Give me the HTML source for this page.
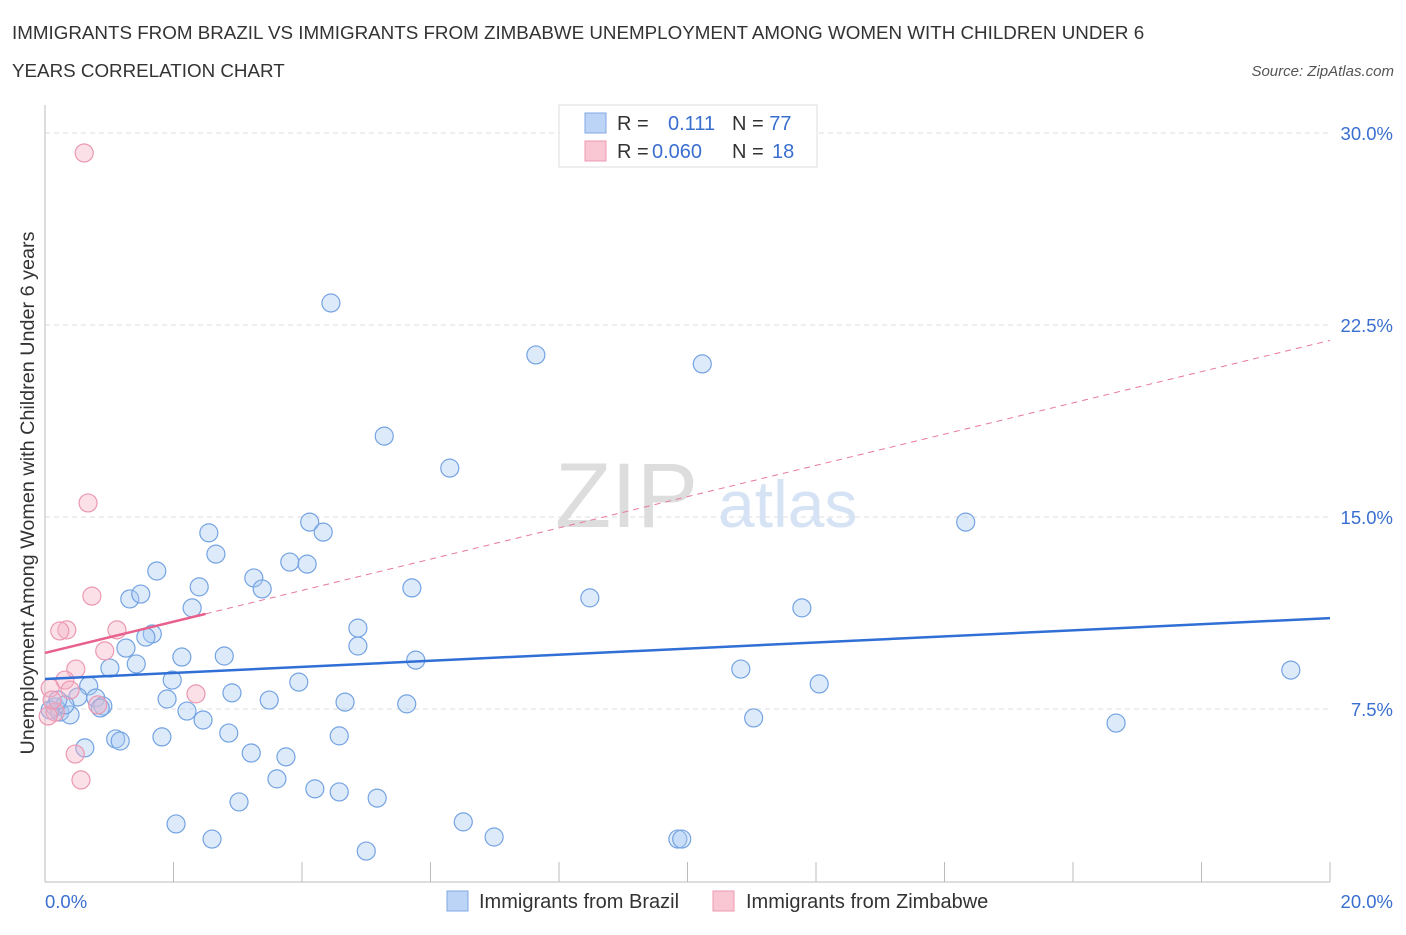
<!DOCTYPE html>
<html><head><meta charset="utf-8"><style>
body{margin:0;background:#fff;font-family:"Liberation Sans",sans-serif;}
svg text{font-family:"Liberation Sans",sans-serif;}
</style></head><body>
<svg id="c" width="1406" height="930" xmlns="http://www.w3.org/2000/svg">
<text x="12" y="39" font-size="18.8" fill="#333">IMMIGRANTS FROM BRAZIL VS IMMIGRANTS FROM ZIMBABWE UNEMPLOYMENT AMONG WOMEN WITH CHILDREN UNDER 6</text>
<text x="12" y="77" font-size="18.8" fill="#333">YEARS CORRELATION CHART</text>
<text x="1394" y="76" font-size="15" fill="#555" font-style="italic" text-anchor="end">Source: ZipAtlas.com</text>
<text x="34" y="493" font-size="19.8" fill="#333" text-anchor="middle" transform="rotate(-90 34 493)">Unemployment Among Women with Children Under 6 years</text>
<g id="grid"></g>
<text x="555" y="527" font-size="92" fill="#ddd" font-family="Liberation Serif">ZIP</text>
<text x="718" y="527" font-size="66" fill="#d5e3f5">atlas</text>
<g id="pts"></g>
<g id="lines"></g>
<g>
<rect x="559" y="105" width="258" height="62" fill="#fff" stroke="#ddd"/>
<rect x="585" y="113" width="21" height="20" fill="#bcd4f6" stroke="#80aae6"/>
<rect x="585" y="141" width="21" height="20" fill="#f9c6d4" stroke="#ee9ab2"/>
<text x="617" y="130" font-size="20" fill="#333">R = <tspan x="668" fill="#3a6fd0">0.111</tspan><tspan x="732" fill="#333">N = </tspan><tspan fill="#3a6fd0">77</tspan></text>
<text x="617" y="158" font-size="20" fill="#333">R = <tspan x="652" fill="#3a6fd0">0.060</tspan><tspan x="732" fill="#333">N = </tspan><tspan x="772" fill="#3a6fd0">18</tspan></text>
</g>
<g>
<rect x="447" y="891" width="21" height="20" fill="#bcd4f6" stroke="#80aae6"/>
<text x="479" y="908" font-size="20" fill="#333">Immigrants from Brazil</text>
<rect x="713" y="891" width="21" height="20" fill="#f9c6d4" stroke="#ee9ab2"/>
<text x="746" y="908" font-size="20" fill="#333">Immigrants from Zimbabwe</text>
</g>
</svg>
<script>
const xTicks=[0,2,4,6,8,10,12,14,16,18,20];
const yTicks=[7.5,15,22.5,30];
const yTickLabels=["7.5%","15.0%","22.5%","30.0%"];
const xEndLabels=["0.0%","20.0%"];
const brazilX=[4.45,7.64,10.23,5.28,6.30,4.12,4.33,2.55,14.33,1.74,2.66,3.81,4.08,3.25,1.32,1.49,2.40,3.38,5.71,8.48,2.29,11.78,1.67,1.57,4.87,4.87,1.26,2.13,2.79,1.01,1.42,5.77,10.83,19.39,1.98,3.95,2.91,0.68,0.51,0.79,0.90,1.90,3.49,4.67,5.63,12.05,2.21,2.46,11.03,16.67,2.86,1.82,1.10,1.17,4.58,0.62,3.21,3.75,3.61,4.20,4.58,3.02,5.17,6.51,2.04,6.99,2.60,9.85,9.91,5.00,0.16,0.23,0.39,0.31,0.08,0.20,0.86];
const brazilY=[23.36,21.33,20.98,18.16,16.91,14.80,14.41,14.38,14.80,12.89,13.55,13.24,13.16,12.62,11.80,11.99,12.27,12.19,12.23,11.84,11.45,11.45,10.43,10.31,10.66,9.96,9.88,9.53,9.57,9.10,9.26,9.41,9.06,9.02,8.63,8.55,8.13,8.40,7.97,7.93,7.62,7.89,7.85,7.77,7.70,8.48,7.42,7.07,7.15,6.95,6.56,6.41,6.33,6.25,6.45,5.98,5.78,5.63,4.77,4.38,4.26,3.87,4.02,3.09,3.01,2.50,2.42,2.42,2.42,1.95,7.58,7.38,7.27,7.66,7.46,7.85,7.54];
const zimX=[0.61,0.67,0.73,0.34,0.23,1.12,0.93,0.48,0.31,0.08,2.35,0.82,0.16,0.05,0.47,0.56,0.39,0.11];
const zimY=[29.22,15.55,11.91,10.59,10.55,10.59,9.77,9.06,8.63,8.32,8.09,7.66,7.38,7.23,5.74,4.73,8.24,7.85];
const brazilTrend=[8.67,11.05];
const zimTrend=[9.69,21.9];
const zimSolidEnd=2.5;
const X=v=>45+v/20*1285;
const Y=v=>901-v*25.6;
const NS="http://www.w3.org/2000/svg";
function mk(parent,tag,attrs){const e=document.createElementNS(NS,tag);for(const k in attrs)e.setAttribute(k,attrs[k]);document.getElementById(parent).appendChild(e);return e;}
yTicks.forEach((t,i)=>{
 const l=mk('grid','line',{x1:45,x2:1330,y1:Y(t),y2:Y(t),stroke:'#ddd','stroke-dasharray':'5,4'});
 
 
 const tx=mk('grid','text',{x:1393,y:Y(t)+7,'font-size':18.5,fill:'#3a6fd0','text-anchor':'end'});
 tx.textContent=yTickLabels[i];
 
 
});
const ax=mk('grid','line',{x1:45,x2:45,y1:105,y2:882,stroke:'#bbb'});


const bx=mk('grid','line',{x1:45,x2:1330,y1:882,y2:882,stroke:'#bbb'});


xTicks.forEach(t=>{
 const l=mk('grid','line',{x1:X(t),x2:X(t),y1:862,y2:882,stroke:'#bbb'});
 
 
});
[[0,'start',45],[20,'end',1393]].forEach((d,i)=>{
 const tx=mk('grid','text',{x:d[2],y:908,'font-size':18.5,fill:'#3a6fd0','text-anchor':d[1]});
 tx.textContent=xEndLabels[i];
 
 
});
brazilX.forEach((x,i)=>{
 const c=mk('pts','circle',{cx:X(x),cy:Y(brazilY[i]),r:9,fill:'rgba(170,202,242,0.4)',stroke:'#74a3e2','stroke-width':1.2});
 
 
});
zimX.forEach((x,i)=>{
 const c=mk('pts','circle',{cx:X(x),cy:Y(zimY[i]),r:9,fill:'rgba(246,178,198,0.4)',stroke:'#eb98b1','stroke-width':1.2});
 
 
});
const bl=mk('lines','line',{x1:X(0),y1:Y(brazilTrend[0]),x2:X(20),y2:Y(brazilTrend[1]),stroke:'#2f6fd6','stroke-width':2.5});


const zAt=x=>zimTrend[0]+(zimTrend[1]-zimTrend[0])*x/20;
const zd=mk('lines','line',{x1:X(zimSolidEnd),y1:Y(zAt(zimSolidEnd)),x2:X(20),y2:Y(zimTrend[1]),stroke:'#e8789c','stroke-width':1,'stroke-dasharray':'6,5'});


const zl=mk('lines','line',{x1:X(0),y1:Y(zimTrend[0]),x2:X(zimSolidEnd),y2:Y(zAt(zimSolidEnd)),stroke:'#e8608c','stroke-width':2.5});


</script>
</body></html>
